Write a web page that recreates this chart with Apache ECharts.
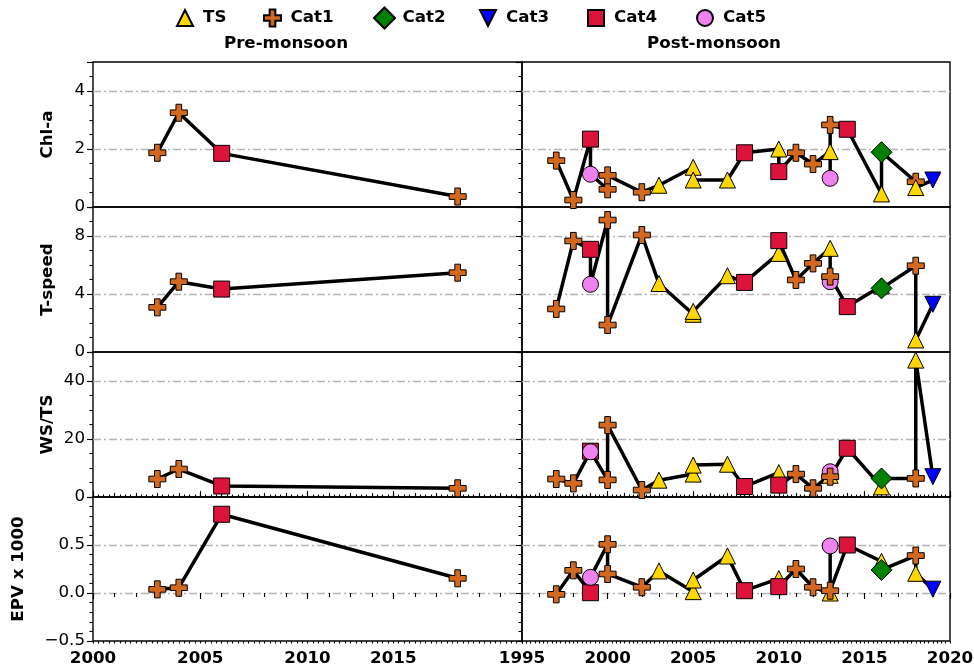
<!DOCTYPE html>
<html>
<head>
<meta charset="utf-8">
<script src="https://cdn.jsdelivr.net/npm/echarts@6/dist/echarts.min.js"></script>
<style>html,body{margin:0;padding:0;background:#fff}#c{width:974px;height:671px}</style>
</head>
<body>
<div id="c"></div>
<script>
// ---------------- data ----------------
const categories = ['TS', 'Cat1', 'Cat2', 'Cat3', 'Cat4', 'Cat5'];
const rowNames = ['Chl-a', 'T-speed', 'WS/TS', 'EPV x 1000'];
const panelTitles = ['Pre-monsoon', 'Post-monsoon'];

// Pre-monsoon
const preYears = [2003, 2004, 2006, 2017];
const preCats = ['Cat1', 'Cat1', 'Cat4', 'Cat1'];
const preChl = [1.87, 3.25, 1.85, 0.36];
const preTspeed = [3.08, 4.85, 4.34, 5.47];
const preWSTS = [6.2, 9.65, 3.8, 3.0];
const preEPV = [0.038, 0.055, 0.82, 0.153];

// Post-monsoon
const postYears = [1997, 1998, 1999, 1999, 2000, 2000, 2002, 2003, 2005, 2005, 2007, 2008, 2010, 2010, 2011, 2012, 2013, 2013, 2013, 2014, 2016, 2016, 2018, 2018, 2019];
const postCats = ['Cat1', 'Cat1', 'Cat4', 'Cat5', 'Cat1', 'Cat1', 'Cat1', 'TS', 'TS', 'TS', 'TS', 'Cat4', 'TS', 'Cat4', 'Cat1', 'Cat1', 'TS', 'Cat5', 'Cat1', 'Cat4', 'TS', 'Cat2', 'Cat1', 'TS', 'Cat3'];
const postChl = [1.60, 0.24, 2.34, 1.13, 0.61, 1.09, 0.51, 0.75, 1.37, 0.93, 0.93, 1.87, 2.00, 1.22, 1.87, 1.48, 1.91, 0.99, 2.83, 2.68, 0.45, 1.89, 0.87, 0.67, 0.93];
const postTspeed = [2.97, 7.66, 7.08, 4.67, 9.10, 1.86, 8.07, 4.72, 2.60, 2.80, 5.26, 4.80, 6.80, 7.68, 4.97, 6.11, 7.15, 4.85, 5.20, 3.13, 4.55, 4.39, 5.95, 0.83, 3.29];
const postWSTS = [6.2, 4.7, 15.8, 15.6, 5.9, 24.8, 2.4, 5.8, 7.9, 11.0, 11.3, 3.6, 8.4, 4.1, 7.9, 3.0, 7.5, 8.7, 7.0, 16.8, 3.5, 6.4, 6.4, 47.2, 7.0];
const postEPV = [-0.014, 0.236, 0.003, 0.163, 0.507, 0.198, 0.06, 0.23, 0.014, 0.135, 0.385, 0.024, 0.15, 0.066, 0.25, 0.06, 0.0, 0.49, 0.024, 0.50, 0.33, 0.24, 0.39, 0.205, 0.04];

// tick labels (text) and the axis values they sit at
const preXTicks = ['2000', '2005', '2010', '2015'];
const preXTickPos = [2000, 2005, 2010, 2014];
const postXTicks = ['1995', '2000', '2005', '2010', '2015', '2020'];
const postXTickPos = [1995, 2000, 2005, 2010, 2015, 2020];
const chlTicks = [0, 2, 4];
const tspeedTicks = [0, 4, 8];
const wstsTicks = [0, 20, 40];
const epvTicks = [-0.5, 0.0, 0.5];

// ---------------- styling / layout ----------------
const FONT = 'DejaVu Sans';
const FS = 16.7;
const PLUS = 'path://M-1,-3L1,-3L1,-1L3,-1L3,1L1,1L1,3L-1,3L-1,1L-3,1L-3,-1L-1,-1Z';
const markerStyle = {
  TS:   { symbol: 'triangle', size: 16, color: '#FFD700', icon: 'path://M0,-1L1,1L-1,1Z', ih: 16 },
  Cat1: { symbol: PLUS, size: 17, color: '#D2691E', icon: PLUS, ih: 17 },
  Cat2: { symbol: 'diamond', size: 21, color: '#008000', icon: 'path://M0,-1L1,0L0,1L-1,0Z', ih: 21 },
  Cat3: { symbol: 'path://M-1,-1L1,-1L0,1Z', size: 16, color: '#0000FF', icon: 'path://M-1,-1L1,-1L0,1Z', ih: 16 },
  Cat4: { symbol: 'rect', size: 16, color: '#DC143C', icon: 'path://M-1,-1L1,-1L1,1L-1,1Z', ih: 16 },
  Cat5: { symbol: 'circle', size: 16, color: '#EE82EE', icon: 'path://M1,0A1,1,0,1,1,-1,0A1,1,0,1,1,1,0Z', ih: 16 }
};
const legendCenters = [189, 276, 386, 492, 600, 709];

const cols = [
  { left: 93, width: 429, min: 2000, max: 2020, ticks: preXTicks, pos: preXTickPos },
  { left: 522, width: 428, min: 1995, max: 2020, ticks: postXTicks, pos: postXTickPos }
];
const rows = [
  { top: 62, height: 145, min: 0, max: 5, interval: 2, minor: 0.5, ticks: chlTicks, dec: 0 },
  { top: 207, height: 145, min: 0, max: 10, interval: 4, minor: 1, ticks: tspeedTicks, dec: 0 },
  { top: 352, height: 145, min: 0, max: 50, interval: 20, minor: 5, ticks: wstsTicks, dec: 0 },
  { top: 497, height: 144, min: -0.5, max: 1.0, interval: 0.5, minor: 0.1, ticks: epvTicks, dec: 1 }
];
const panels = [
  { years: preYears, cats: preCats, vals: [preChl, preTspeed, preWSTS, preEPV] },
  { years: postYears, cats: postCats, vals: [postChl, postTspeed, postWSTS, postEPV] }
];

function inList(list, v) { return list.some(t => Math.abs(t - v) < 1e-9); }
function fmtNum(v, dec) {
  const s = Math.abs(v).toFixed(dec);
  return (v < -1e-12 ? '\u2212' : '') + s;
}

const grids = [], xAxes = [], yAxes = [], series = [];
const tickLine = { color: '#000', width: 1.1 };

rows.forEach((R, r) => {
  cols.forEach((C, c) => {
    const g = grids.length;
    grids.push({
      left: C.left, width: C.width, top: R.top, height: R.height,
      show: true, borderColor: '#000', borderWidth: 1.4, backgroundColor: 'transparent',
      containLabel: false, outerBoundsMode: 'none'
    });
    const hasTicks = r >= 2;
    const xi = xAxes.length;
    xAxes.push({
      type: 'value', gridIndex: g, position: 'bottom', min: C.min, max: C.max, interval: 5,
      axisLine: { show: false }, splitLine: { show: false },
      axisTick: { show: hasTicks, inside: r === 2, length: 6, lineStyle: tickLine, customValues: C.pos },
      axisLabel: {
        show: r === 3, margin: 9, customValues: C.pos,
        fontFamily: FONT, fontSize: FS, fontWeight: 'bold', color: '#000',
        formatter: v => {
          const k = C.pos.findIndex(p => Math.abs(p - v) < 1e-9);
          return k >= 0 ? C.ticks[k] : '';
        }
      }
    });
    if (hasTicks) {
      [[1, 4], [0.25, 2.5]].forEach(([iv, len]) => {
        xAxes.push({
          type: 'value', gridIndex: g, position: 'bottom', min: C.min, max: C.max, interval: iv,
          axisLine: { show: false }, splitLine: { show: false }, axisLabel: { show: false },
          axisTick: { show: true, inside: r === 2, length: len, lineStyle: tickLine }
        });
      });
    }
    const yi = yAxes.length;
    yAxes.push({
      type: 'value', gridIndex: g, position: 'left', min: R.min, max: R.max, interval: R.interval,
      axisLine: { show: false },
      axisTick: { show: true, length: 6, lineStyle: tickLine },
      axisLabel: {
        show: c === 0, showMinLabel: true, showMaxLabel: true, margin: 8,
        fontFamily: FONT, fontSize: FS, color: '#000',
        formatter: v => inList(R.ticks, v) ? fmtNum(v, R.dec) : ''
      },
      splitLine: {
        show: true, showMinLine: false, showMaxLine: false,
        lineStyle: { color: '#b4b4b4', width: 1.3, type: [8, 3, 2, 3] }
      },
      name: c === 0 ? rowNames[r] : '', nameLocation: 'middle', nameRotate: 90,
      nameGap: r === 3 ? 66 : 37,
      nameTextStyle: { fontFamily: FONT, fontSize: FS, fontWeight: 'bold', color: '#000' }
    });
    yAxes.push({
      type: 'value', gridIndex: g, position: 'left', min: R.min, max: R.max, interval: R.minor,
      axisLine: { show: false }, splitLine: { show: false }, axisLabel: { show: false },
      axisTick: { show: true, length: 3.5, lineStyle: tickLine }
    });

    const P = panels[c];
    const vals = P.vals[r];
    series.push({
      type: 'line', name: panelTitles[c] + ' ' + rowNames[r], xAxisIndex: xi, yAxisIndex: yi,
      data: P.years.map((yr, i) => [yr, vals[i]]),
      symbol: 'none', showSymbol: false, silent: true, z: 2,
      lineStyle: { color: '#000', width: 3.5, join: 'round', cap: 'round' }
    });
    series.push({
      type: 'scatter', name: panelTitles[c] + ' ' + rowNames[r] + ' markers', xAxisIndex: xi, yAxisIndex: yi,
      z: 3, silent: true, clip: false,
      itemStyle: { borderColor: '#000', borderWidth: 1, opacity: 1 },
      data: P.years.map((yr, i) => {
        const m = markerStyle[P.cats[i]];
        return { value: [yr, vals[i]], symbol: m.symbol, symbolSize: m.size, itemStyle: { color: m.color, opacity: 1 } };
      })
    });
  });
});

// legend entries (one series per category; the markers themselves are drawn above in data order)
categories.forEach(cat => {
  const m = markerStyle[cat];
  series.push({
    type: 'scatter', name: cat, xAxisIndex: 0, yAxisIndex: 0, data: [],
    symbol: m.symbol, symbolSize: m.size,
    itemStyle: { color: m.color, borderColor: '#000', borderWidth: 1, opacity: 1 }
  });
});

const legends = categories.map((cat, i) => {
  const m = markerStyle[cat];
  return {
    data: [{ name: cat, icon: m.icon }],
    left: legendCenters[i] - 13, top: 17 - m.ih / 2, padding: 0,
    itemWidth: 26, itemHeight: m.ih, symbolKeepAspect: true, selectedMode: false,
    itemStyle: { opacity: 1 },
    textStyle: { fontFamily: FONT, fontSize: FS, fontWeight: 'bold', color: '#000' }
  };
});

const chart = echarts.init(document.getElementById('c'), null, { renderer: 'canvas' });
chart.setOption({
  animation: false,
  backgroundColor: '#fff',
  grid: grids,
  xAxis: xAxes,
  yAxis: yAxes,
  legend: legends,
  graphic: [
    { type: 'text', x: 286, y: 44, style: { text: panelTitles[0], font: 'bold ' + FS + 'px "' + FONT + '"', align: 'center', verticalAlign: 'middle', fill: '#000' } },
    { type: 'text', x: 714, y: 44, style: { text: panelTitles[1], font: 'bold ' + FS + 'px "' + FONT + '"', align: 'center', verticalAlign: 'middle', fill: '#000' } }
  ],
  series: series
});
</script>
</body>
</html>
